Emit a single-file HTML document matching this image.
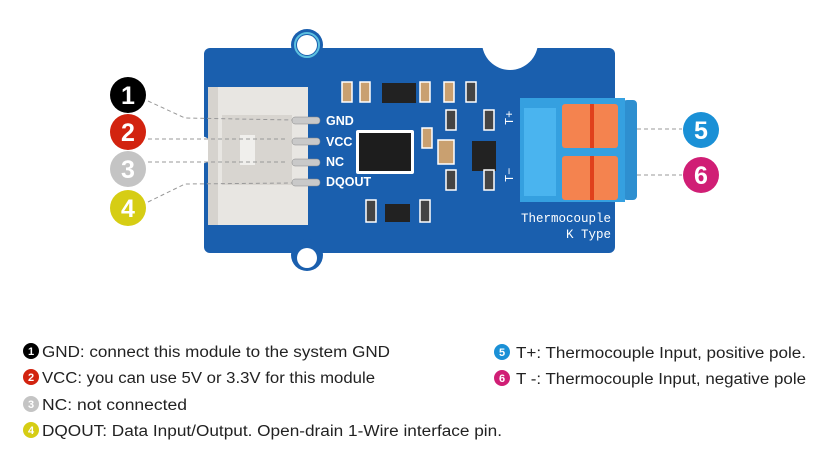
<!DOCTYPE html>
<html><head><meta charset="utf-8"><style>
html,body{margin:0;padding:0;background:#fff;width:829px;height:476px;overflow:hidden}
svg{display:block}
.lg{font-family:"Liberation Sans",sans-serif;font-size:15.5px;fill:#222}
.n{font-family:"Liberation Sans",sans-serif;font-weight:bold;fill:#fff;text-anchor:middle}
</style></head><body>
<svg width="829" height="476" viewBox="0 0 829 476" xmlns="http://www.w3.org/2000/svg">
<defs><mask id="m"><rect width="829" height="476" fill="#fff"/>
<circle cx="307" cy="45" r="10" fill="#000"/><circle cx="307" cy="258" r="10" fill="#000"/>
<circle cx="510" cy="42" r="28" fill="#000"/>
<circle cx="200" cy="150" r="14" fill="#000"/></mask></defs>
<g mask="url(#m)">
<rect x="204" y="48" width="411" height="205" rx="6" fill="#1a5fae"/>
<circle cx="307" cy="45" r="16" fill="#1a5fae"/><circle cx="307" cy="255" r="16" fill="#1a5fae"/>
</g>
<circle cx="307" cy="45" r="12" fill="none" stroke="#5cc0e0" stroke-width="2"/>
<rect x="208" y="87" width="100" height="138" fill="#e8e6e2"/>
<rect x="208" y="87" width="10" height="138" fill="#d6d3ce"/>
<rect x="222" y="115" width="70" height="70" fill="#d8d5d0"/>
<rect x="240" y="135" width="15" height="30" fill="#f0efec"/>
<g fill="#c9c9c9" stroke="#888" stroke-width="0.5">
<rect x="292" y="117" width="28" height="7" rx="3"/><rect x="292" y="138" width="28" height="7" rx="3"/>
<rect x="292" y="159" width="28" height="7" rx="3"/><rect x="292" y="179" width="28" height="7" rx="3"/></g>
<g font-family="Liberation Sans,sans-serif" font-weight="bold" font-size="12.5" fill="#fff">
<text x="326" y="125">GND</text><text x="326" y="146">VCC</text><text x="326" y="166">NC</text><text x="326" y="186">DQOUT</text></g>
<rect x="356" y="130" width="58" height="44" fill="#fff" rx="2"/>
<rect x="359" y="133" width="52" height="38" fill="#1d1d1d"/>
<rect x="382" y="83" width="34" height="20" fill="#222"/>
<rect x="385" y="204" width="25" height="18" fill="#222"/>
<rect x="472" y="141" width="24" height="30" fill="#222"/>
<g fill="#c9a070" stroke="#fff" stroke-width="1.5">
<rect x="342" y="82" width="10" height="20"/><rect x="360" y="82" width="10" height="20"/>
<rect x="420" y="82" width="10" height="20"/><rect x="444" y="82" width="10" height="20"/>
<rect x="422" y="128" width="10" height="20"/><rect x="438" y="140" width="16" height="24"/></g>
<g fill="#444" stroke="#fff" stroke-width="1.5">
<rect x="466" y="82" width="10" height="20"/><rect x="446" y="110" width="10" height="20"/>
<rect x="484" y="110" width="10" height="20"/><rect x="484" y="170" width="10" height="20"/>
<rect x="446" y="170" width="10" height="20"/><rect x="366" y="200" width="10" height="22"/>
<rect x="420" y="200" width="10" height="22"/></g>
<text x="500" y="128" font-family="Liberation Mono,monospace" font-size="12" fill="#fff" transform="rotate(-90 505 120)">T+</text>
<text x="500" y="185" font-family="Liberation Mono,monospace" font-size="12" fill="#fff" transform="rotate(-90 505 177)">T−</text>
<rect x="623" y="100" width="14" height="100" rx="4" fill="#2e8fd0"/>
<rect x="520" y="98" width="105" height="104" fill="#35a0e0"/>
<rect x="524" y="108" width="32" height="88" fill="#4ab4ef"/>
<rect x="562" y="104" width="56" height="44" rx="3" fill="#f4834f"/>
<rect x="562" y="156" width="56" height="44" rx="3" fill="#f4834f"/>
<rect x="590" y="104" width="4" height="44" fill="#e0401c"/><rect x="590" y="156" width="4" height="44" fill="#e0401c"/>
<g font-family="Liberation Mono,monospace" font-size="12.5" fill="#fff" text-anchor="end">
<text x="611" y="222">Thermocouple</text><text x="611" y="238">K Type</text></g>
<g stroke="#999" stroke-width="1" stroke-dasharray="4,3" fill="none">
<polyline points="148,101 185,118 292,120"/><line x1="148" y1="139" x2="288" y2="139"/>
<line x1="148" y1="162" x2="288" y2="162"/><polyline points="148,202 185,184 292,183"/>
<line x1="637" y1="129" x2="682" y2="129"/><line x1="637" y1="175" x2="682" y2="175"/></g>
<circle cx="128" cy="95" r="18" fill="#000"/><text class="n" x="128" y="104" font-size="25">1</text>
<circle cx="128" cy="132" r="18" fill="#d2230f"/><text class="n" x="128" y="141" font-size="25">2</text>
<circle cx="128" cy="169" r="18" fill="#c4c4c4"/><text class="n" x="128" y="178" font-size="25">3</text>
<circle cx="128" cy="208" r="18" fill="#d6cd14"/><text class="n" x="128" y="217" font-size="25">4</text>
<circle cx="701" cy="130" r="18" fill="#1a90d6"/><text class="n" x="701" y="139" font-size="25">5</text>
<circle cx="701" cy="175" r="18" fill="#d01e75"/><text class="n" x="701" y="184" font-size="25">6</text>
<circle cx="31" cy="351" r="8" fill="#000"/><text class="n" x="31" y="355" font-size="11">1</text>
<circle cx="31" cy="377" r="8" fill="#d2230f"/><text class="n" x="31" y="381" font-size="11">2</text>
<circle cx="31" cy="404" r="8" fill="#c4c4c4"/><text class="n" x="31" y="408" font-size="11">3</text>
<circle cx="31" cy="430" r="8" fill="#d6cd14"/><text class="n" x="31" y="434" font-size="11">4</text>
<circle cx="502" cy="352" r="8" fill="#1a90d6"/><text class="n" x="502" y="356" font-size="11">5</text>
<circle cx="502" cy="378" r="8" fill="#d01e75"/><text class="n" x="502" y="382" font-size="11">6</text>
<text class="lg" x="42" y="357" textLength="348" lengthAdjust="spacingAndGlyphs">GND: connect this module to the system GND</text>
<text class="lg" x="42" y="383" textLength="333" lengthAdjust="spacingAndGlyphs">VCC: you can use 5V or 3.3V for this module</text>
<text class="lg" x="42" y="410" textLength="145" lengthAdjust="spacingAndGlyphs">NC: not connected</text>
<text class="lg" x="42" y="436" textLength="460" lengthAdjust="spacingAndGlyphs">DQOUT: Data Input/Output. Open-drain 1-Wire interface pin.</text>
<text class="lg" x="516" y="358" textLength="290" lengthAdjust="spacingAndGlyphs">T+: Thermocouple Input, positive pole.</text>
<text class="lg" x="516" y="384" textLength="290" lengthAdjust="spacingAndGlyphs">T -: Thermocouple Input, negative pole</text>
</svg>
</body></html>
